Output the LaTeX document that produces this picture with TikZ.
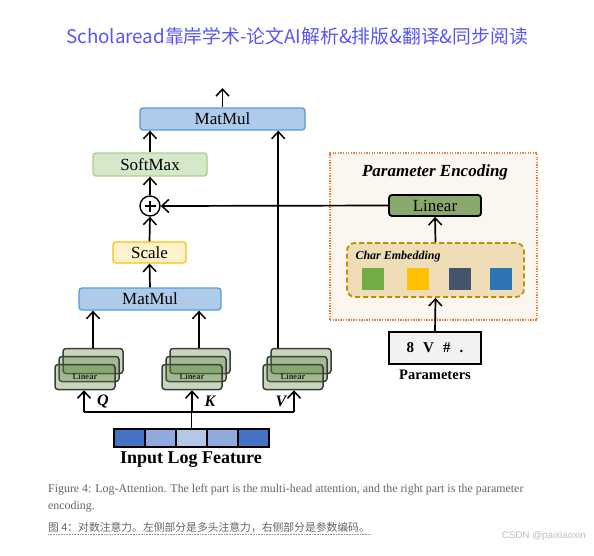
\documentclass[tikz,border=0pt]{standalone}
\usepackage{fontspec}
\setmainfont{Liberation Serif}
\newfontfamily\cjk{Noto Sans CJK SC}
\newfontfamily\lsans{Liberation Sans}
\usetikzlibrary{arrows.meta,calc}
\definecolor{titlecol}{RGB}{88,86,240}
\definecolor{mmfill}{RGB}{174,203,235}
\definecolor{mmdraw}{RGB}{91,155,213}
\definecolor{smfill}{RGB}{213,232,201}
\definecolor{smdraw}{RGB}{169,209,142}
\definecolor{scfill}{RGB}{255,242,204}
\definecolor{scdraw}{RGB}{255,192,0}
\definecolor{pefill}{RGB}{252,246,241}
\definecolor{pedraw}{RGB}{237,125,49}
\definecolor{linfill}{RGB}{137,168,110}
\definecolor{cefill}{RGB}{238,221,182}
\definecolor{cedraw}{RGB}{191,144,0}
\definecolor{sqgreen}{RGB}{112,173,71}
\definecolor{sqyellow}{RGB}{255,192,0}
\definecolor{sqslate}{RGB}{68,84,106}
\definecolor{sqblue}{RGB}{46,117,182}
\definecolor{stgreen}{RGB}{84,130,53}
\definecolor{stdraw}{RGB}{60,60,60}
\definecolor{fdark}{RGB}{68,114,196}
\definecolor{fmid}{RGB}{143,170,220}
\definecolor{flight}{RGB}{180,199,231}
\definecolor{capgray}{RGB}{100,100,100}
\definecolor{wmgray}{RGB}{190,190,190}
\tikzset{
  arr/.style={line width=1.7pt,-{Straight Barb[length=7pt,width=13pt,line width=1.5pt]}},
  conn/.style={line width=1.7pt},
  opbox/.style={rounded corners=3pt,line width=1.3pt,inner sep=0pt,
    font=\fontsize{17}{20}\selectfont},
  mmbox/.style={opbox,fill=mmfill,draw=mmdraw},
  smbox/.style={opbox,fill=smfill,draw=smdraw},
  scbox/.style={opbox,fill=scfill,draw=scdraw},
  stackbox/.style={rounded corners=3pt,fill=stgreen,fill opacity=0.32,
    draw=stdraw,draw opacity=1,line width=1.5pt,minimum width=60pt,minimum height=25pt,inner sep=0pt,
    text opacity=1},
  featcell/.style={draw=black,line width=1.5pt,minimum width=31pt,minimum height=18pt,inner sep=0pt},
  embsq/.style={minimum width=22pt,minimum height=22pt,inner sep=0pt},
  qkv/.style={font=\fontsize{16}{18}\selectfont\bfseries\itshape},
}
\begin{document}
\begin{tikzpicture}[x=1pt,y=-1pt]
\useasboundingbox (0,0) rectangle (594,555);
\fill[white] (0,0) rectangle (594,555);
% title
\node[text=titlecol,font=\cjk\fontsize{18.8}{22}\selectfont] (title) at (297,36) {Scholaread靠岸学术-论文AI解析\&排版\&翻译\&同步阅读};

% parameter encoding frame
\node[draw=pedraw,fill=pefill,line width=1.5pt,dash pattern=on 1.3pt off 1.3pt,
  minimum width=207pt,minimum height=167pt,inner sep=0pt] (pe) at (433.5,236.5) {};
\node[font=\fontsize{17}{20}\selectfont\bfseries\itshape] (petitle) at (435,172) {Parameter Encoding};
\node[opbox,fill=linfill,draw=black,line width=1.8pt,minimum width=92pt,minimum height=21pt] (plin) at (435,205.5) {Linear};
\node[rounded corners=8pt,fill=cefill,draw=cedraw,line width=1.8pt,dash pattern=on 5pt off 3pt,
  minimum width=177pt,minimum height=54pt,inner sep=0pt] (ce) at (435.5,270) {};
\node[anchor=west,font=\fontsize{12}{14}\selectfont\bfseries\itshape] (cetitle) at (352,257) {Char Embedding};
\node[embsq,fill=sqgreen] (sq1) at (373,279) {};
\node[embsq,fill=sqyellow] (sq2) at (418,279) {};
\node[embsq,fill=sqslate] (sq3) at (460,279) {};
\node[embsq,fill=sqblue] (sq4) at (501,279) {};
\node[draw=black,fill=black!5,line width=1.3pt,minimum width=92pt,minimum height=32pt,inner sep=0pt,
  font=\fontsize{15}{18}\selectfont\bfseries] (params) at (435,348) {8\hspace{0.6em}V\hspace{0.6em}\#\hspace{0.6em}.};
\node[font=\fontsize{14.5}{17}\selectfont\bfseries] (paramlbl) at (435,375) {Parameters};
\draw[arr] (params.north) -- (ce.south);
\draw[arr] (ce.north) -- (plin.south);

% attention column
\node[mmbox,minimum width=165pt,minimum height=22pt] (mm2) at (222.5,119) {MatMul};
\coordinate (outtop) at (222.5,88);
\node[smbox,minimum width=114pt,minimum height=23pt] (sm) at (150,164.5) {SoftMax};
\node[circle,draw=black,line width=1.4pt,minimum size=20pt,inner sep=0pt] (plus) at (150,206) {};
\draw[line width=1.1pt] ($(plus.center)+(-5.5,0)$) -- ($(plus.center)+(5.5,0)$)
  ($(plus.center)+(0,-5.5)$) -- ($(plus.center)+(0,5.5)$);
\node[scbox,minimum width=73pt,minimum height=21pt] (sc) at (149.5,252.5) {Scale};
\node[mmbox,minimum width=142pt,minimum height=22pt] (mm1) at (150,299) {MatMul};

\draw[arr] (mm2.north) -- (outtop);
\draw[arr] (sm.north) -- (sm.north |- mm2.south);
\draw[arr] (plus.north) -- (sm.south);
\draw[arr] (sc.north) -- (plus.south);
\draw[arr] (mm1.north) -- (sc.south);
\draw[arr] (plin.west) -- (plus.east);

% linear stacks
\foreach \n/\dx in {q/0,k/107,v/208}{
  \node[stackbox] (\n b) at (93+\dx,361) {};
  \node[stackbox] (\n m) at (89+\dx,369) {};
  \node[stackbox,font=\fontsize{8.5}{10}\selectfont\bfseries,text=black!85] (\n f) at (85+\dx,377) {Linear};
}
\draw[arr] (qb.north) -- (qb.north |- mm1.south);
\draw[arr] ([xshift=-1pt]kb.north) -- ([xshift=-1pt]kb.north |- mm1.south);
\draw[arr] ([xshift=8pt]vb.north west) -- ([xshift=8pt]vb.north west |- mm2.south);

% input feature
\node[featcell,fill=fdark] (f1) at (129.5,438) {};
\node[featcell,fill=fmid] (f2) at (160.5,438) {};
\node[featcell,fill=flight] (f3) at (191.5,438) {};
\node[featcell,fill=fmid] (f4) at (222.5,438) {};
\node[featcell,fill=fdark] (f5) at (253.5,438) {};
\node[font=\fontsize{18}{21}\selectfont\bfseries] (featlbl) at (191,460) {Input Log Feature};
\coordinate (split) at (191.5,412);
\draw[conn] (f3.north) -- (split);
\draw[conn] ([xshift=-1pt]qf.south |- split) -- ([xshift=1pt]vf.south |- split);
\draw[arr] ([xshift=-1pt]qf.south |- split) -- ([xshift=-1pt]qf.south);
\draw[arr] ([xshift=0pt]kf.south |- split) -- (kf.south);
\draw[arr] ([xshift=1pt]vf.south |- split) -- ([xshift=1pt]vf.south);
\node[qkv] (qlbl) at (103,401) {Q};
\node[qkv] (klbl) at (210,401) {K};
\node[qkv] (vlbl) at (281,401) {V};

% caption
\node[anchor=west,text=capgray,font=\fontsize{11.9}{17}\selectfont,align=left,inner sep=0pt] (cap1) at (48,498.5)
  {Figure 4: Log-Attention. The left part is the multi-head attention, and the right part is the parameter\\encoding.};
\node[anchor=west,text=capgray,font=\cjk\fontsize{10.8}{12}\selectfont,inner sep=0pt] (cap2) at (48,527)
  {图 4：对数注意力。左侧部分是多头注意力，右侧部分是参数编码。};
\draw[capgray!70,line width=0.6pt,dash pattern=on 0.8pt off 0.8pt] (cap2.south west) ++(0,1.5) -- ($(cap2.south east)+(0,1.5)$);
\node[anchor=east,text=wmgray,font=\lsans\fontsize{9.8}{12}\selectfont,inner sep=0pt] (wm) at (586,536) {CSDN @paixiaoxin};
\end{tikzpicture}
\end{document}
